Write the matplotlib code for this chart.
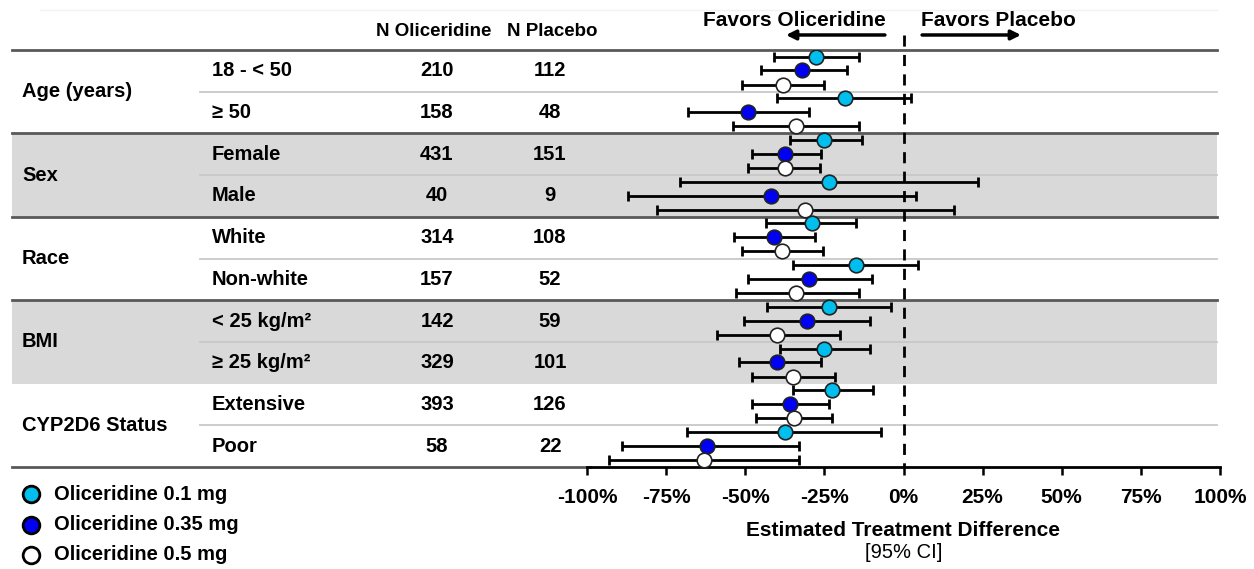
import matplotlib.pyplot as plt
from matplotlib.ticker import FuncFormatter

plt.rcParams['font.family'] = ['Liberation Sans', 'DejaVu Sans']

groups = ["Age (years)", "Sex", "Race", "BMI", "CYP2D6 Status"]
subgroups = ["18 - < 50", "\u2265 50", "Female", "Male", "White", "Non-white",
             "< 25 kg/m\u00b2", "\u2265 25 kg/m\u00b2", "Extensive", "Poor"]
n_oli = [210, 158, 431, 40, 314, 157, 142, 329, 393, 58]
n_pla = [112, 48, 151, 9, 108, 52, 59, 101, 126, 22]

dose_names = ["Oliceridine 0.1 mg", "Oliceridine 0.35 mg", "Oliceridine 0.5 mg"]
dose_colors = ["#00BFEF", "#0000F2", "#FFFFFF"]

# estimate, lower, upper (%), one list per dose, one entry per subgroup
est_01 = [-27.5, -18.5, -25, -23.5, -29, -15, -23.5, -25, -22.5, -37.5]
lo_01 = [-41, -40, -36, -70.5, -43.5, -35, -43, -39, -35, -68.5]
hi_01 = [-14, 2.5, -13, 23.5, -15, 4.5, -4, -10.5, -9.5, -7]

est_035 = [-32, -49, -37.5, -42, -41, -30, -30.5, -40, -36, -62]
lo_035 = [-45, -68, -48, -87, -53.5, -49, -50.5, -52, -48, -89]
hi_035 = [-18, -30, -26, 4, -28, -10, -10.5, -26, -23.5, -33]

est_05 = [-38, -34, -37.5, -31, -38.5, -34, -40, -35, -34.5, -63]
lo_05 = [-51, -54, -49, -78, -51, -53, -59, -48, -46.5, -93]
hi_05 = [-25, -14, -26.5, 16, -25.5, -14, -20, -21.5, -22.5, -33]

estimates = [est_01, est_035, est_05]
lowers = [lo_01, lo_035, lo_05]
uppers = [hi_01, hi_035, hi_05]

xticks = [-100, -75, -50, -25, 0, 25, 50, 75, 100]

W, H = 1254, 569
fig = plt.figure(figsize=(W / 100, H / 100), dpi=100)

# background axes in pixel coordinates for the table part
bg = fig.add_axes([0, 0, 1, 1])
bg.set_xlim(0, W)
bg.set_ylim(H, 0)
bg.axis('off')

top, bottom = 50, 467
row_h = (bottom - top) / len(subgroups)
x_right = 1217
fs = 14.5

# shaded bands for Sex and BMI
for g in [1, 3]:
    y0 = top + 2 * g * row_h
    bg.fill_between([12, x_right], y0, y0 + 2 * row_h, color='#D9D9D9', lw=0, zorder=0)

# thin lines between subgroups
for g in range(len(groups)):
    y = top + (2 * g + 1) * row_h
    bg.plot([200, x_right], [y, y], color='#C8C8C8', lw=1.3, zorder=1)

# thick separators
for g in [0, 1, 2, 3]:
    y = top + 2 * g * row_h
    bg.plot([12, x_right], [y, y], color='#595959', lw=2, zorder=1)
bg.plot([12, 590], [bottom, bottom], color='#595959', lw=2, zorder=1)
bg.plot([40, x_right], [10, 10], color='#F2F2F2', lw=1, zorder=1)

# table header and text
bg.text(434, 31, "N Oliceridine", ha='center', va='center', fontsize=13.5, fontweight='bold')
bg.text(552, 31, "N Placebo", ha='center', va='center', fontsize=13.5, fontweight='bold')
for g, name in enumerate(groups):
    bg.text(22, top + (2 * g + 1) * row_h, name, ha='left', va='center',
            fontsize=fs, fontweight='bold')
for i, sub in enumerate(subgroups):
    yc = top + (i + 0.5) * row_h
    bg.text(212, yc, sub, ha='left', va='center', fontsize=fs, fontweight='bold')
    bg.text(437, yc, str(n_oli[i]), ha='center', va='center', fontsize=fs, fontweight='bold')
    bg.text(550, yc, str(n_pla[i]), ha='center', va='center', fontsize=fs, fontweight='bold')

# legend
for k, name in enumerate(dose_names):
    yl = 494 + k * 30.5
    bg.plot(31, yl, 'o', ms=12, mfc=dose_colors[k], mec='black', mew=2)
    bg.text(54, yl, name, ha='left', va='center', fontsize=fs, fontweight='bold')

# forest plot axes
x0, x1 = 587, 1220
ax = fig.add_axes([x0 / W, (H - bottom) / H, (x1 - x0) / W, (bottom - top) / H])
ax.patch.set_alpha(0)
ax.set_xlim(-100, 100)
ax.set_ylim(len(subgroups), 0)

offsets = [0.16, 0.49, 0.83]
for k in range(3):
    ys = [i + offsets[k] for i in range(len(subgroups))]
    est = estimates[k]
    xerr = [[e - l for e, l in zip(est, lowers[k])],
            [u - e for e, u in zip(est, uppers[k])]]
    ax.errorbar(est, ys, xerr=xerr, fmt='none', ecolor='black', elinewidth=2,
                capsize=3.5, capthick=2, zorder=3)
    ax.plot(est, ys, 'o', ms=10.5, mfc=dose_colors[k], mec='#222222', mew=1.2, zorder=4)

ax.plot([0, 0], [-0.36, len(subgroups)], color='black', lw=2, ls=(0, (4, 3)),
        clip_on=False, zorder=2)

# direction arrows
ax.annotate("", xy=(-38, -0.36), xytext=(-5, -0.36), xycoords='data',
            arrowprops=dict(arrowstyle='-|>', color='black', lw=2.5, mutation_scale=14),
            annotation_clip=False)
ax.annotate("", xy=(38, -0.36), xytext=(5, -0.36), xycoords='data',
            arrowprops=dict(arrowstyle='-|>', color='black', lw=2.5, mutation_scale=14),
            annotation_clip=False)
ax.text(-34.5, -0.7, "Favors Oliceridine", ha='center', va='center', fontsize=15,
        fontweight='bold', clip_on=False)
ax.text(30, -0.7, "Favors Placebo", ha='center', va='center', fontsize=15,
        fontweight='bold', clip_on=False)

for s in ['top', 'right', 'left']:
    ax.spines[s].set_visible(False)
ax.spines['bottom'].set_linewidth(2)
ax.set_yticks([])
ax.set_xticks(xticks)
ax.xaxis.set_major_formatter(FuncFormatter(lambda v, p: f"{v:.0f}%"))
ax.tick_params(axis='x', direction='out', length=6, width=1.8, pad=9, labelsize=15)
for lab in ax.get_xticklabels():
    lab.set_fontweight('bold')

ax.text(0.5, -0.153, "Estimated Treatment Difference", transform=ax.transAxes,
        ha='center', va='center', fontsize=15, fontweight='bold')
ax.text(0.5, -0.206, "[95% CI]", transform=ax.transAxes, ha='center', va='center',
        fontsize=14.5)

plt.savefig('out.png', dpi=100)
